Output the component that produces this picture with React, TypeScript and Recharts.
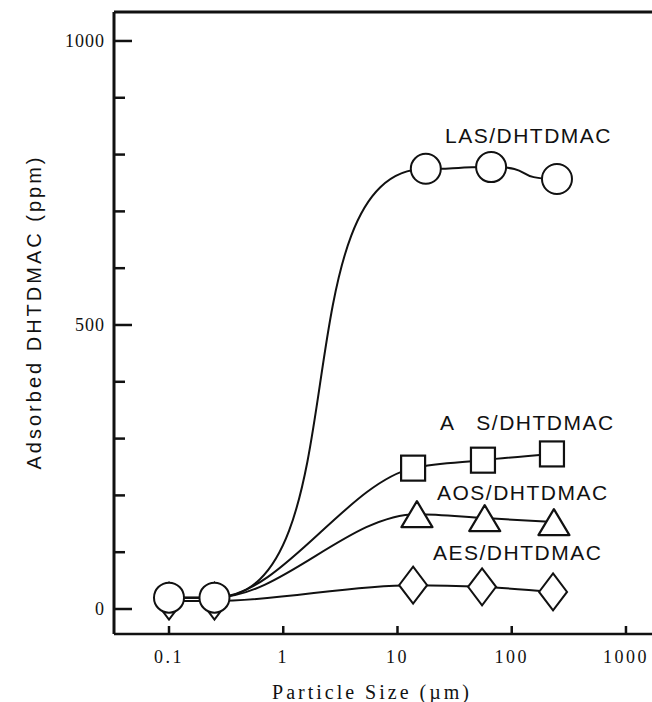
import React from 'react';
import { LineChart, Line, XAxis, YAxis, ReferenceLine } from 'recharts';

// particle size (um) and adsorbed DHTDMAC (ppm) for each surfactant pair
const lasSize = [0.1, 0.25, 17.7, 66, 249];
const lasPpm = [20, 20, 775, 778, 757];
const asSize = [0.1, 0.25, 13.7, 56, 225];
const asPpm = [20, 20, 248, 262, 273];
const aosSize = [0.1, 0.25, 14.8, 58, 234];
const aosPpm = [20, 20, 167, 160, 153];
const aesSize = [0.1, 0.25, 13.7, 55, 230];
const aesPpm = [14, 14, 42, 39, 30];

const xTicks = [0.1, 1, 10, 100, 1000];
const yTicks = [0, 100, 200, 300, 400, 500, 600, 700, 800, 900, 1000];
const yLabelled = [0, 500, 1000];

const X_MIN = 0.033;
const X_MAX = 1690;
const Y_MIN = -44;
const Y_MAX = 1051;

const toRows = (xs: number[], ys: number[]) => xs.map((x, i) => ({ x, y: ys[i] }));

const lasData = toRows(lasSize, lasPpm);
const asData = toRows(asSize, asPpm);
const aosData = toRows(aosSize, aosPpm);
const aesData = toRows(aesSize, aesPpm);

const INK = '#111';
const SERIF = '"Liberation Serif", "DejaVu Serif", serif';
const SANS = '"Liberation Sans", Arial, sans-serif';

// sigmoid-like curve for the LAS isotherm: flat at each point, long horizontal handles
const HANDLE = 0.7;
const sigmoidCurve = (context: any) => {
  let px = 0;
  let py = 0;
  let n = 0;
  return {
    areaStart() {},
    areaEnd() {},
    lineStart() {
      n = 0;
    },
    lineEnd() {},
    point(x: number, y: number) {
      if (n === 0) {
        context.moveTo(x, y);
      } else {
        const dx = x - px;
        context.bezierCurveTo(px + HANDLE * dx, py, x - HANDLE * dx, y, x, y);
      }
      px = x;
      py = y;
      n += 1;
    },
  };
};

// the two smallest sizes are hidden under the LAS circles
const hidden = (i: number) => i < 2;

const CircleDot = (p: any) => (
  <circle key={`c-${p.index}`} cx={p.cx} cy={p.cy} r={15} fill="#fff" stroke={INK} strokeWidth={2} />
);

const SquareDot = (p: any) =>
  hidden(p.index) ? (
    <g key={`s-${p.index}`} />
  ) : (
    <rect key={`s-${p.index}`} x={p.cx - 12} y={p.cy - 12.5} width={24} height={25} fill="#fff" stroke={INK} strokeWidth={2.2} />
  );

const TriangleDot = (p: any) =>
  hidden(p.index) ? (
    <g key={`t-${p.index}`} />
  ) : (
    <polygon
      key={`t-${p.index}`}
      points={`${p.cx},${p.cy - 13} ${p.cx + 15.5},${p.cy + 13} ${p.cx - 15.5},${p.cy + 13}`}
      fill="#fff"
      stroke={INK}
      strokeWidth={2.2}
      strokeLinejoin="round"
    />
  );

const DiamondDot = (p: any) => (
  <polygon
    key={`d-${p.index}`}
    points={`${p.cx},${p.cy - 18.5} ${p.cx + 14},${p.cy} ${p.cx},${p.cy + 18.5} ${p.cx - 14},${p.cy}`}
    fill="#fff"
    stroke={INK}
    strokeWidth={2}
  />
);

const XTick = ({ x, y, payload }: any) => (
  <g>
    <line x1={x} x2={x} y1={y} y2={y - 8} stroke={INK} strokeWidth={2.5} />
    <text x={x} y={y + 29} textAnchor="middle" fontFamily={SERIF} fontSize={18} letterSpacing={2.5} fill={INK}>
      {payload.value}
    </text>
  </g>
);

const YTick = ({ x, y, payload }: any) => {
  const major = yLabelled.includes(payload.value);
  return (
    <g>
      <line x1={x} x2={x + (major ? 18 : 11)} y1={y} y2={y} stroke={INK} strokeWidth={2.5} />
      {major && (
        <text x={x - 9} y={y} dy="0.35em" textAnchor="end" fontFamily={SERIF} fontSize={18} letterSpacing={1} fill={INK}>
          {payload.value}
        </text>
      )}
    </g>
  );
};

const seriesLabel = { fontFamily: SANS, fontSize: 21, letterSpacing: 1.5, fill: INK } as const;

export default function App() {
  return (
    <div style={{ position: 'absolute', left: 0, top: 0, width: 652, height: 702, background: '#fff' }}>
      <LineChart width={652} height={702} margin={{ top: 12, right: 0, bottom: 0, left: 0 }}>
        <XAxis
          dataKey="x"
          type="number"
          scale="log"
          domain={[X_MIN, X_MAX]}
          allowDataOverflow
          ticks={xTicks}
          tick={XTick}
          tickLine={false}
          tickSize={0}
          tickMargin={0}
          height={68}
          axisLine={{ stroke: INK, strokeWidth: 2.5 }}
        />
        <YAxis
          type="number"
          domain={[Y_MIN, Y_MAX]}
          allowDataOverflow
          ticks={yTicks}
          tick={YTick}
          tickLine={false}
          tickSize={0}
          tickMargin={0}
          width={114}
          axisLine={{ stroke: INK, strokeWidth: 3 }}
        />
        <ReferenceLine y={Y_MAX} stroke={INK} strokeWidth={3} />

        <Line data={aesData} dataKey="y" type="monotone" stroke={INK} strokeWidth={2} dot={DiamondDot} activeDot={false} isAnimationActive={false} />
        <Line data={aosData} dataKey="y" type="monotone" stroke={INK} strokeWidth={2} dot={TriangleDot} activeDot={false} isAnimationActive={false} />
        <Line data={asData} dataKey="y" type="monotone" stroke={INK} strokeWidth={2} dot={SquareDot} activeDot={false} isAnimationActive={false} />
        <Line data={lasData} dataKey="y" type={sigmoidCurve as any} stroke={INK} strokeWidth={2} dot={CircleDot} activeDot={false} isAnimationActive={false} />

        <text x={445} y={143} {...seriesLabel}>LAS/DHTDMAC</text>
        <text x={440} y={430} {...seriesLabel} style={{ whiteSpace: 'pre' }}>{'A   S/DHTDMAC'}</text>
        <text x={437} y={500} {...seriesLabel}>AOS/DHTDMAC</text>
        <text x={433} y={560} {...seriesLabel}>AES/DHTDMAC</text>

        <text
          x={34}
          y={312}
          transform="rotate(-90 34 312)"
          textAnchor="middle"
          dy="0.35em"
          fontFamily={SANS}
          fontSize={20}
          letterSpacing={3}
          fill={INK}
        >
          Adsorbed DHTDMAC (ppm)
        </text>
        <text x={372} y={699} textAnchor="middle" fontFamily={SERIF} fontSize={20} letterSpacing={3} fill={INK}>
          Particle Size (µm)
        </text>
      </LineChart>
    </div>
  );
}
